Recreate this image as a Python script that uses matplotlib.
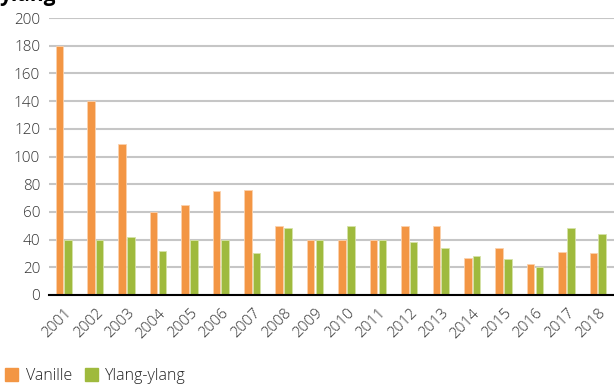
import numpy as np
import matplotlib.pyplot as plt
from matplotlib.patches import Patch

years = [str(y) for y in range(2001, 2019)]
vanille = [180, 140, 109, 60, 65, 75, 76, 50, 40, 40, 40, 50, 50, 27, 34, 22, 31, 30]
ylang = [40, 40, 42, 32, 40, 40, 30, 48, 40, 50, 40, 38, 34, 28, 26, 20, 48, 44]

ORANGE = "#f39644"
GREEN = "#9fba3d"

plt.rcParams['font.family'] = ['Open Sans', 'DejaVu Sans']

fig = plt.figure(figsize=(6.14, 3.85), dpi=100)
ax = fig.add_axes([0.079, 0.234, 0.921, 0.719])

x = np.arange(len(years))
w = 0.24
ax.bar(x - 0.155, vanille, w, color=ORANGE, edgecolor="#fbd2ad", linewidth=0.6, zorder=3)
ax.bar(x + 0.125, ylang, w, color=GREEN, edgecolor="#d6e3a8", linewidth=0.6, zorder=3)

ax.set_xlim(-0.5, len(years) - 0.5)
ax.set_ylim(0, 200)
ax.set_yticks(range(0, 201, 20))
ax.grid(axis='y', color="#c6c6c6", linewidth=1.5, zorder=0)
ax.set_axisbelow(True)

ax.set_xticks(x)
ax.set_xticklabels(years, rotation=45, ha='right', rotation_mode='anchor')
ax.tick_params(axis='both', length=0, labelsize=11, labelcolor="#333333")
ax.tick_params(axis='y', pad=6)
ax.tick_params(axis='x', pad=8)
for lab in ax.get_xticklabels():
    lab.set_fontweight('light')
    lab.set_x(lab.get_position()[0])
for lab in ax.get_yticklabels():
    lab.set_fontweight('light')

for s in ['top', 'right', 'left']:
    ax.spines[s].set_visible(False)
ax.spines['bottom'].set_color('black')
ax.spines['bottom'].set_linewidth(1.5)
ax.spines['bottom'].set_zorder(4)

# title is cut off at the top edge in the original
fig.text(0.0, 1 - 1.5 / 385, "ylang", fontsize=15, fontweight='bold',
         color='black', ha='left', va='baseline')

handles = [Patch(color=ORANGE, label="Vanille"), Patch(color=GREEN, label="Ylang-ylang")]
leg = fig.legend(handles=handles, loc='center left', bbox_to_anchor=(0.0, 9 / 385), ncol=2,
                 frameon=False, fontsize=11.5, handlelength=0.85, handleheight=0.85,
                 handletextpad=0.45, columnspacing=0.8, borderaxespad=0.0,
                 borderpad=0.3, labelcolor="#222222")
for t in leg.get_texts():
    t.set_fontweight('light')

fig.savefig("out.png", dpi=100)
